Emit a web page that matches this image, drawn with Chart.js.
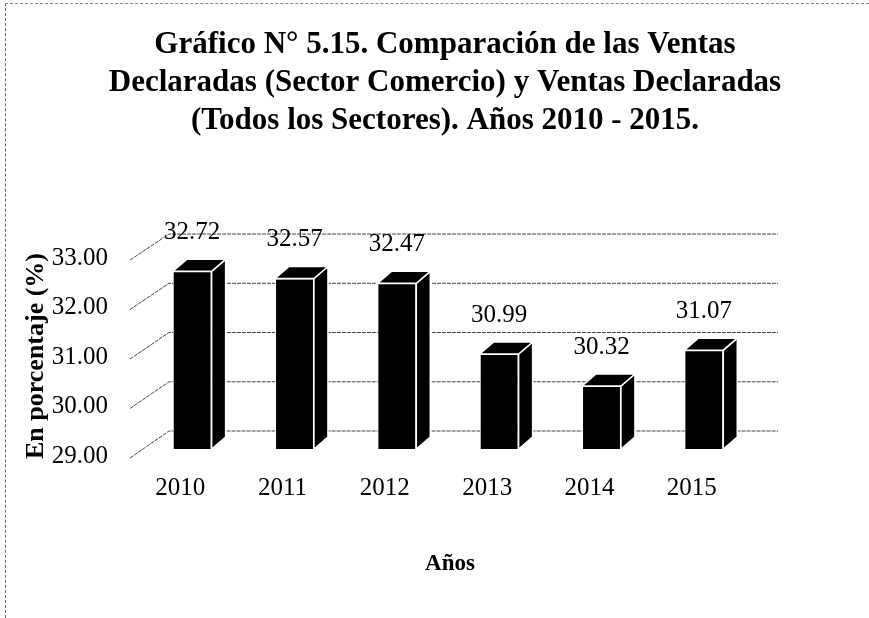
<!DOCTYPE html>
<html>
<head>
<meta charset="utf-8">
<script src="https://cdn.jsdelivr.net/npm/chart.js@4"></script>
<style>
    body { margin: 0; background: #fff; }
    #wrap { position: relative; width: 869px; height: 618px; }
    #frame {
        position: absolute; left: 5px; top: 3px; right: 0; bottom: 0;
        border-top: 1px dashed #888; border-left: 1px dashed #666;
        pointer-events: none;
    }
</style>
</head>
<body>
<div id="wrap">
    <canvas id="chart" width="869" height="618"></canvas>
    <div id="frame"></div>
</div>
<script>
// Chart data
const years = ['2010', '2011', '2012', '2013', '2014', '2015'];
const ventas = [32.72, 32.57, 32.47, 30.99, 30.32, 31.07];
const yTicks = [29, 30, 31, 32, 33];
const titleLines = [
    'Gráfico N° 5.15. Comparación de las Ventas',
    'Declaradas (Sector Comercio) y Ventas Declaradas',
    '(Todos los Sectores). Años 2010 - 2015.'
];

const serif = '"Liberation Serif", "Times New Roman", serif';

// y of the tick label / back wall line for a front pixel
function labelY(area, yF) {
    return area.bottom + 7 - (area.bottom - yF) * 49.75 / 48;
}
function backY(area, yF) {
    return area.bottom - 18 - (area.bottom - yF) * 49.5 / 48;
}

// Fake 3D: grid on the back wall, side walls and tops for the bars
const bars3d = {
    id: 'bars3d',
    beforeDatasetsDraw(chart) {
        const ctx = chart.ctx;
        const area = chart.chartArea;
        const y = chart.scales.y;
        ctx.save();
        ctx.strokeStyle = '#444';
        ctx.lineWidth = 1;
        ctx.setLineDash([4, 1]);
        yTicks.forEach(v => {
            const yF = y.getPixelForValue(v);
            const yB = backY(area, yF);
            ctx.beginPath();
            ctx.moveTo(area.left - 11, labelY(area, yF) + 2);
            ctx.lineTo(area.left + 28, yB);
            ctx.lineTo(area.right + 23, yB);
            ctx.stroke();
        });
        ctx.restore();
    },
    afterDatasetsDraw(chart) {
        const ctx = chart.ctx;
        const area = chart.chartArea;
        const dx = 14, dy = -12;
        ctx.save();
        ctx.fillStyle = '#000';
        ctx.strokeStyle = '#fff';
        ctx.lineWidth = 1.5;
        chart.getDatasetMeta(0).data.forEach(bar => {
            const l = bar.x - bar.width / 2;
            const r = bar.x + bar.width / 2;
            const base = Math.min(bar.base, area.bottom);
            // side
            ctx.beginPath();
            ctx.moveTo(r, bar.y);
            ctx.lineTo(r + dx, bar.y + dy);
            ctx.lineTo(r + dx, base + dy);
            ctx.lineTo(r, base);
            ctx.closePath();
            ctx.fill();
            ctx.stroke();
            // top
            ctx.beginPath();
            ctx.moveTo(l, bar.y);
            ctx.lineTo(l + dx, bar.y + dy);
            ctx.lineTo(r + dx, bar.y + dy);
            ctx.lineTo(r, bar.y);
            ctx.closePath();
            ctx.fill();
            ctx.stroke();
        });
        ctx.restore();
    },
    afterDraw(chart) {
        const ctx = chart.ctx;
        const area = chart.chartArea;
        const x = chart.scales.x;
        const y = chart.scales.y;
        ctx.save();
        ctx.fillStyle = '#000';
        ctx.textBaseline = 'middle';

        // title
        ctx.textAlign = 'center';
        ctx.font = 'bold 31px ' + serif;
        titleLines.forEach((t, i) => {
            ctx.fillText(t, 445, 45 + i * 38);
        });

        ctx.font = '25px ' + serif;
        // y tick labels
        ctx.textAlign = 'right';
        yTicks.forEach(v => {
            ctx.fillText(v.toFixed(2), 108, labelY(area, y.getPixelForValue(v)));
        });

        // x tick labels
        ctx.textAlign = 'center';
        years.forEach((yr, i) => {
            ctx.fillText(yr, x.getPixelForValue(i) - 12, 488);
        });

        // value labels
        chart.getDatasetMeta(0).data.forEach((bar, i) => {
            ctx.fillText(ventas[i].toFixed(2), bar.x, bar.y - 39);
        });

        // axis titles
        ctx.font = 'bold 23px ' + serif;
        ctx.fillText('Años', 450, 564);
        ctx.font = 'bold 26px ' + serif;
        ctx.translate(36, 356);
        ctx.rotate(-Math.PI / 2);
        ctx.fillText('En porcentaje (%)', 0, 0);
        ctx.restore();
    }
};

new Chart(document.getElementById('chart').getContext('2d'), {
    type: 'bar',
    data: {
        labels: years,
        datasets: [{
            data: ventas,
            backgroundColor: '#000',
            borderColor: '#fff',
            borderWidth: 1,
            categoryPercentage: 1,
            barPercentage: 0.38
        }]
    },
    options: {
        responsive: false,
        animation: false,
        layout: { padding: { left: 141, right: 114, top: 258, bottom: 169 } },
        scales: {
            x: { display: false },
            y: { display: false, min: 29, max: 33 }
        },
        plugins: {
            legend: { display: false },
            tooltip: { enabled: false },
            title: { display: false }
        }
    },
    plugins: [bars3d]
});
</script>
</body>
</html>
